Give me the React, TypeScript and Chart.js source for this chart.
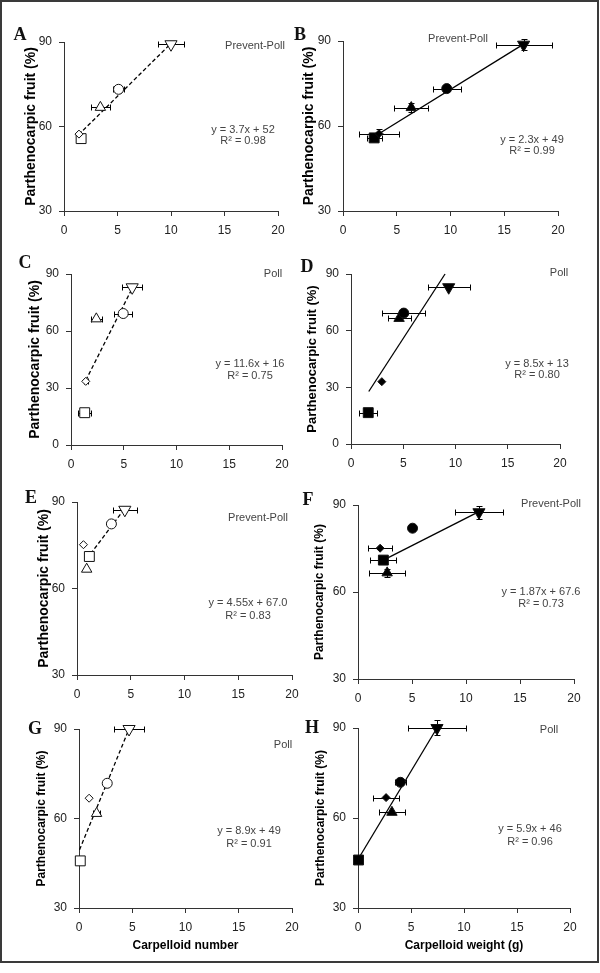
import React, { useEffect, useRef } from 'react';
import { Chart, registerables } from 'chart.js';
Chart.register(...registerables);

// Marker groups (same order in every panel)
const markerGroups = ['square', 'diamond', 'triangle', 'circle', 'invTriangle'];

// Panel A – carpelloid number, Prevent-Poll
const aX = [1.6, 1.4, 3.4, 5.1, 10.0];
const aY = [55.7, 57.3, 66.8, 73.2, 89.2];
const aXErr = [0, 0.2, 0.9, 0.55, 1.2];
const aYErr = [0, 0, 0, 0, 0];
const aTrendX = [1.35, 10.0];
const aTrendY = [57, 89.5];

// Panel B – carpelloid weight, Prevent-Poll
const bX = [2.9, 3.35, 6.35, 9.65, 16.8];
const bY = [55.8, 57.3, 66.5, 73.2, 88.7];
const bXErr = [0.7, 1.85, 1.6, 1.3, 2.6];
const bYErr = [0.8, 1.5, 1.6, 0.8, 2.0];
const bTrendX = [3.3, 16.8];
const bTrendY = [57.2, 88.9];

// Panel C – carpelloid number, Poll
const cX = [1.3, 1.4, 2.4, 4.95, 5.8];
const cY = [17, 33.5, 66.4, 69.2, 83];
const cXErr = [0.63, 0.2, 0.5, 0.85, 0.95];
const cYErr = [0, 0, 0, 0, 0];
const cTrendX = [1.4, 5.85];
const cTrendY = [34, 83];

// Panel D – carpelloid weight, Poll
const dX = [1.65, 2.95, 4.6, 5.05, 9.35];
const dY = [16.6, 33, 66.5, 69.3, 83];
const dXErr = [0.88, 0, 1.1, 2.07, 2.0];
const dYErr = [0, 0, 0, 1.0, 0];
const dTrendX = [1.7, 9.0];
const dTrendY = [27.8, 90];

// Panel E – carpelloid number, Prevent-Poll
const eX = [1.15, 0.6, 0.9, 3.2, 4.45];
const eY = [71.1, 75.2, 66.7, 82.4, 87.3];
const eXErr = [0.35, 0, 0, 0, 1.1];
const eYErr = [0, 0, 0, 0, 0];
const eTrendX = [0.9, 4.45];
const eTrendY = [70.2, 87.8];

// Panel F – carpelloid weight, Prevent-Poll
const fX = [2.35, 2.05, 2.7, 5.05, 11.2];
const fY = [71, 75.1, 66.6, 82, 87.5];
const fXErr = [1.2, 1.1, 1.67, 0, 2.2];
const fYErr = [0, 0, 1.5, 0, 2.2];
const fTrendX = [2.35, 11.2];
const fTrendY = [71, 87.7];

// Panel G – carpelloid number, Poll
const gX = [0.12, 0.95, 1.65, 2.65, 4.7];
const gY = [45.8, 66.8, 61.7, 71.8, 90];
const gXErr = [0, 0, 0.3, 0, 1.37];
const gYErr = [0, 0, 0, 0, 0];
const gTrendX = [0.05, 4.7];
const gTrendY = [49.5, 90];

// Panel H – carpelloid weight, Poll
const hX = [0.05, 2.65, 3.2, 4.0, 7.45];
const hY = [46, 66.8, 61.9, 71.9, 90];
const hXErr = [0, 1.2, 1.2, 0.5, 2.7];
const hYErr = [0, 0, 0, 0, 2.5];
const hTrendX = [0.05, 7.45];
const hTrendY = [46.5, 90];

// Tick values
const xTicks = [0, 5, 10, 15, 20];
const yTicksHigh = [30, 60, 90];
const yTicksFull = [0, 30, 60, 90];

const yTitleText = 'Parthenocarpic fruit (%)';

const FONT = "'Liberation Sans', Arial, sans-serif";

type PanelCfg = {
  letter: string;
  x: number[]; y: number[]; xErr: number[]; yErr: number[];
  trendX: number[]; trendY: number[];
  open: boolean;
  yTicks: number[];
  L: number; R: number; T: number; B: number;
  yTitleX: number; yTitleSize: number;
  xTitle?: string;
  letterPos: [number, number];
  cond: string; condPos: [number, number];
  eq: string; r2: string; eqPos: [number, number]; r2Pos: [number, number];
};

const panels: PanelCfg[] = [
  { letter: 'A', x: aX, y: aY, xErr: aXErr, yErr: aYErr, trendX: aTrendX, trendY: aTrendY, open: true, yTicks: yTicksHigh,
    L: 64, R: 278, T: 42, B: 211, yTitleX: 31, yTitleSize: 14, letterPos: [20, 34],
    cond: 'Prevent-Poll', condPos: [255, 45], eq: 'y = 3.7x + 52', r2: 'R\u00b2 = 0.98', eqPos: [243, 129], r2Pos: [243, 140] },
  { letter: 'B', x: bX, y: bY, xErr: bXErr, yErr: bYErr, trendX: bTrendX, trendY: bTrendY, open: false, yTicks: yTicksHigh,
    L: 343, R: 558, T: 41, B: 211, yTitleX: 309, yTitleSize: 14, letterPos: [300, 34],
    cond: 'Prevent-Poll', condPos: [458, 38], eq: 'y = 2.3x + 49', r2: 'R\u00b2 = 0.99', eqPos: [532, 139], r2Pos: [532, 150] },
  { letter: 'C', x: cX, y: cY, xErr: cXErr, yErr: cYErr, trendX: cTrendX, trendY: cTrendY, open: true, yTicks: yTicksFull,
    L: 71, R: 282, T: 274, B: 445, yTitleX: 35, yTitleSize: 14, letterPos: [25, 262],
    cond: 'Poll', condPos: [273, 273], eq: 'y = 11.6x + 16', r2: 'R\u00b2 = 0.75', eqPos: [250, 363], r2Pos: [250, 375] },
  { letter: 'D', x: dX, y: dY, xErr: dXErr, yErr: dYErr, trendX: dTrendX, trendY: dTrendY, open: false, yTicks: yTicksFull,
    L: 351, R: 560, T: 274, B: 444, yTitleX: 312, yTitleSize: 13, letterPos: [307, 266],
    cond: 'Poll', condPos: [559, 272], eq: 'y = 8.5x + 13', r2: 'R\u00b2 = 0.80', eqPos: [537, 363], r2Pos: [537, 374] },
  { letter: 'E', x: eX, y: eY, xErr: eXErr, yErr: eYErr, trendX: eTrendX, trendY: eTrendY, open: true, yTicks: yTicksHigh,
    L: 77, R: 292, T: 502, B: 675, yTitleX: 44, yTitleSize: 14, letterPos: [31, 497],
    cond: 'Prevent-Poll', condPos: [258, 517], eq: 'y = 4.55x + 67.0', r2: 'R\u00b2 = 0.83', eqPos: [248, 602], r2Pos: [248, 615] },
  { letter: 'F', x: fX, y: fY, xErr: fXErr, yErr: fYErr, trendX: fTrendX, trendY: fTrendY, open: false, yTicks: yTicksHigh,
    L: 358, R: 574, T: 505, B: 679, yTitleX: 320, yTitleSize: 12, letterPos: [308, 499],
    cond: 'Prevent-Poll', condPos: [551, 503], eq: 'y = 1.87x + 67.6', r2: 'R\u00b2 = 0.73', eqPos: [541, 591], r2Pos: [541, 603] },
  { letter: 'G', x: gX, y: gY, xErr: gXErr, yErr: gYErr, trendX: gTrendX, trendY: gTrendY, open: true, yTicks: yTicksHigh,
    L: 79, R: 292, T: 729, B: 908, yTitleX: 42, yTitleSize: 12, xTitle: 'Carpelloid number', letterPos: [35, 728],
    cond: 'Poll', condPos: [283, 744], eq: 'y = 8.9x + 49', r2: 'R\u00b2 = 0.91', eqPos: [249, 830], r2Pos: [249, 843] },
  { letter: 'H', x: hX, y: hY, xErr: hXErr, yErr: hYErr, trendX: hTrendX, trendY: hTrendY, open: false, yTicks: yTicksHigh,
    L: 358, R: 570, T: 728, B: 908, yTitleX: 321, yTitleSize: 12, xTitle: 'Carpelloid weight (g)', letterPos: [312, 727],
    cond: 'Poll', condPos: [549, 729], eq: 'y = 5.9x + 46', r2: 'R\u00b2 = 0.96', eqPos: [530, 828], r2Pos: [530, 841] },
];

const Y_AXIS_W = 60;
const PAD_TOP = 15;
const PAD_RIGHT = 15;

const errorBarPlugin = {
  id: 'errorBars',
  beforeDatasetsDraw(chart: any) {
    const ctx = chart.ctx;
    const xs = chart.scales.x;
    const ys = chart.scales.y;
    chart.data.datasets.forEach((ds: any) => {
      if (!ds.xErr) return;
      ds.data.forEach((p: any, i: number) => {
        const px = Math.round(xs.getPixelForValue(p.x)) + 0.5;
        const py = Math.round(ys.getPixelForValue(p.y)) + 0.5;
        const ex = ds.xErr[i] || 0;
        const ey = ds.yErr[i] || 0;
        ctx.save();
        ctx.strokeStyle = '#000';
        ctx.lineWidth = 1;
        ctx.beginPath();
        if (ex > 0) {
          const x1 = Math.round(xs.getPixelForValue(p.x - ex)) + 0.5;
          const x2 = Math.round(xs.getPixelForValue(p.x + ex)) + 0.5;
          ctx.moveTo(x1, py); ctx.lineTo(x2, py);
          ctx.moveTo(x1, py - 3); ctx.lineTo(x1, py + 3);
          ctx.moveTo(x2, py - 3); ctx.lineTo(x2, py + 3);
        }
        if (ey > 0) {
          const y1 = Math.round(ys.getPixelForValue(p.y - ey)) + 0.5;
          const y2 = Math.round(ys.getPixelForValue(p.y + ey)) + 0.5;
          ctx.moveTo(px, y1); ctx.lineTo(px, y2);
          ctx.moveTo(px - 3, y1); ctx.lineTo(px + 3, y1);
          ctx.moveTo(px - 3, y2); ctx.lineTo(px + 3, y2);
        }
        ctx.stroke();
        ctx.restore();
      });
    });
  },
};

function Panel({ cfg }: { cfg: PanelCfg }) {
  const ref = useRef<HTMLCanvasElement>(null);
  const xH = cfg.xTitle ? 48 : 30;
  const left = cfg.L - Y_AXIS_W;
  const top = cfg.T - PAD_TOP;
  const width = cfg.R - cfg.L + Y_AXIS_W + PAD_RIGHT;
  const height = cfg.B - cfg.T + PAD_TOP + xH;

  useEffect(() => {
    if (!ref.current) return;
    const titleLH = cfg.yTitleSize * 1.2;
    const titlePad = cfg.yTitleX - left - titleLH / 2;
    const tickFont = { family: FONT, size: 12 };
    const chart = new Chart(ref.current, {
      type: 'scatter',
      data: {
        datasets: [
          {
            data: cfg.x.map((v, i) => ({ x: v, y: cfg.y[i] })),
            xErr: cfg.xErr,
            yErr: cfg.yErr,
            pointStyle: ['rect', 'rectRot', 'triangle', 'circle', 'triangle'],
            pointRadius: [7, 4, 6, 5, 7],
            pointRotation: [0, 0, 0, 0, 180],
            pointBackgroundColor: cfg.open ? '#ffffff' : '#000000',
            pointBorderColor: '#111',
            pointBorderWidth: 1,
            clip: false,
          } as any,
          {
            type: 'line',
            data: cfg.trendX.map((v, i) => ({ x: v, y: cfg.trendY[i] })),
            borderColor: '#000',
            borderWidth: 1.3,
            borderDash: cfg.open ? [4, 2.5] : [],
            pointRadius: 0,
            showLine: true,
            fill: false,
            clip: false,
          } as any,
        ],
      },
      options: {
        animation: false,
        responsive: false,
        events: [],
        layout: { padding: { left: 0, top: PAD_TOP, right: PAD_RIGHT, bottom: 0 } },
        plugins: { legend: { display: false }, tooltip: { enabled: false } },
        scales: {
          x: {
            type: 'linear',
            min: 0,
            max: 20,
            afterBuildTicks: (s: any) => { s.ticks = xTicks.map((v) => ({ value: v })); },
            ticks: { font: tickFont, color: '#222', padding: 7, maxRotation: 0 },
            grid: { display: true, drawOnChartArea: false, drawTicks: true, tickLength: 5, color: '#333' },
            border: { display: true, color: '#333', width: 1 },
            title: cfg.xTitle
              ? { display: true, text: cfg.xTitle, color: '#000', font: { family: FONT, size: 12, weight: 'bold' }, padding: { top: 0, bottom: 3 } }
              : { display: false },
            afterFit: (s: any) => { s.height = xH; },
          },
          y: {
            type: 'linear',
            min: cfg.yTicks[0],
            max: cfg.yTicks[cfg.yTicks.length - 1],
            afterBuildTicks: (s: any) => { s.ticks = cfg.yTicks.map((v) => ({ value: v })); },
            ticks: { font: tickFont, color: '#222', padding: 7 },
            grid: { display: true, drawOnChartArea: false, drawTicks: true, tickLength: 5, color: '#333' },
            border: { display: true, color: '#333', width: 1 },
            title: {
              display: true,
              text: yTitleText,
              color: '#000',
              font: { family: FONT, size: cfg.yTitleSize, weight: 'bold' },
              padding: { top: titlePad, bottom: 0 },
            },
            afterFit: (s: any) => { s.width = Y_AXIS_W; },
          },
        },
      } as any,
      plugins: [errorBarPlugin],
    });
    return () => chart.destroy();
  }, []);

  const txt: React.CSSProperties = {
    position: 'absolute',
    transform: 'translate(-50%, -50%)',
    whiteSpace: 'nowrap',
    fontFamily: FONT,
    fontSize: 11,
    lineHeight: 1,
    color: '#444',
  };

  return (
    <>
      <canvas
        ref={ref}
        width={width}
        height={height}
        style={{ position: 'absolute', left, top, width, height }}
      />
      <div
        style={{
          position: 'absolute',
          left: cfg.letterPos[0],
          top: cfg.letterPos[1],
          transform: 'translate(-50%, -50%)',
          fontFamily: "'Liberation Serif', 'Times New Roman', serif",
          fontWeight: 'bold',
          fontSize: 18,
          lineHeight: 1,
          color: '#111',
        }}
      >
        {cfg.letter}
      </div>
      <div style={{ ...txt, left: cfg.condPos[0], top: cfg.condPos[1] }}>{cfg.cond}</div>
      <div style={{ ...txt, left: cfg.eqPos[0], top: cfg.eqPos[1] }}>{cfg.eq}</div>
      <div style={{ ...txt, left: cfg.r2Pos[0], top: cfg.r2Pos[1] }}>{cfg.r2}</div>
    </>
  );
}

export default function App() {
  return (
    <div style={{ position: 'absolute', left: 0, top: 0, width: 600, height: 973, background: '#fff', overflow: 'hidden' }}>
      <div
        style={{
          position: 'absolute',
          left: 0,
          top: 0,
          width: 599,
          height: 963,
          border: '2px solid #3a3a3a',
          boxSizing: 'border-box',
        }}
      />
      {panels.map((p) => (
        <Panel key={p.letter} cfg={p} />
      ))}
    </div>
  );
}
